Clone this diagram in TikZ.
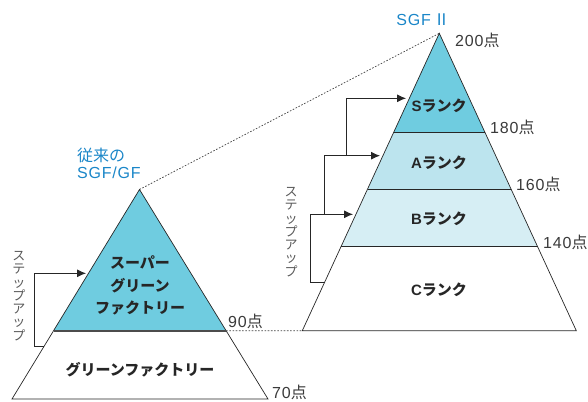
\documentclass[tikz,border=0pt]{standalone}
\usepackage{fontspec}
\setmainfont{Noto Sans CJK JP}
\newfontfamily\latin{Liberation Sans}[LetterSpace=5]
\usetikzlibrary{arrows.meta,calc}
\definecolor{rankS}{HTML}{6FCCE0}
\definecolor{rankA}{HTML}{BCE4EE}
\definecolor{rankB}{HTML}{D6EEF4}
\definecolor{sgfblue}{HTML}{1A86C8}
\definecolor{inkgray}{HTML}{3A3A3A}
\begin{document}
\begin{tikzpicture}[x=1pt, y=-1pt, every node/.style={inner sep=0pt, text=inkgray},
        rank/.style={font=\fontsize{15}{22.5}\selectfont\bfseries, text=black!85, align=center},
        score/.style={anchor=west, font=\fontsize{16}{18}\selectfont},
        title/.style={anchor=west, font=\fontsize{16}{18}\selectfont, text=sgfblue},
        steplabel/.style={align=center, font=\fontsize{13}{13.3}\selectfont, text=black!65},
        stepline/.style={line width=0.8pt, draw=black!85, -{Latex[length=9pt,width=8pt]}},
        pyr/.style={draw=black!85, line width=0.7pt},
        guide/.style={draw=black!75, line width=0.7pt, dash pattern=on 1.6pt off 1.6pt}]
    \useasboundingbox (0,0) rectangle (588,401);
    % Left pyramid
        \coordinate (lt) at (139.5,189.5);
        \coordinate (lbl) at (12,399);
        \coordinate (lbr) at (268,399);
        \coordinate (lml) at ($(lt)!0.674!(lbl)$);
        \coordinate (lmr) at ($(lt)!0.674!(lbr)$);
        \fill[rankS] (lt) -- (lml) -- (lmr) -- cycle;
        \draw[pyr] (lt) -- (lbl) -- (lbr) -- cycle;
        \draw[draw=black!70, line width=1.6pt] (lml) -- (lmr);
    % Right pyramid
        \coordinate (rt) at (439.3,33.3);
        \coordinate (rbl) at (302.3,330.7);
        \coordinate (rbr) at (576.3,330.7);
        \foreach \name/\t in {s/0.333, a/0.5235, b/0.7176} {
            \coordinate (\name l) at ($(rt)!\t!(rbl)$);
            \coordinate (\name r) at ($(rt)!\t!(rbr)$);
        }
        \fill[rankB] (al) -- (bl) -- (br) -- (ar) -- cycle;
        \fill[rankA] (sl) -- (al) -- (ar) -- (sr) -- cycle;
        \fill[rankS] (rt) -- (sl) -- (sr) -- cycle;
        \draw[pyr] (rt) -- (rbl) -- (rbr) -- cycle;
        \foreach \name in {s,a,b}
            \draw[pyr] (\name l) -- (\name r);
    % Dotted guides
        \draw[guide] (lt) -- (rt);
        \draw[guide] (lmr) -- (rbl);
    % Titles and scores
        \node[title] (old1) at (77,155) {従来の};
        \node[title] (old2) at (77,173) {\latin SGF/GF};
        \node[title, anchor=center] (new) at (423,20) {{\latin SGF}\,Ⅱ};
        \node[score] (p200) at (455,40) {{\latin 200}点};
        \node[score] (p180) at (490,127) {{\latin 180}点};
        \node[score] (p160) at (516,184) {{\latin 160}点};
        \node[score] (p140) at (543,242) {{\latin 140}点};
        \node[score] (p90) at (228,321) {{\latin 90}点};
        \node[score] (p70) at (272,392) {{\latin 70}点};
    % Rank labels
        \node[rank] (sgf) at (140,285.5) {スーパー\\グリーン\\ファクトリー};
        \node[rank] (gf) at (140,370) {グリーンファクトリー};
        \node[rank] (rs) at (439,106) {{\latin S}ランク};
        \node[rank] (ra) at (439,163) {{\latin A}ランク};
        \node[rank] (rb) at (439,219) {{\latin B}ランク};
        \node[rank] (rc) at (439,290) {{\latin C}ランク};
    % Step-up arrows
        \node[steplabel] (lstep) at (19,296) {ス\\テ\\ッ\\プ\\ア\\ッ\\プ};
        \node[steplabel] (rstep) at (291,232) {ス\\テ\\ッ\\プ\\ア\\ッ\\プ};
        \coordinate (l0) at (44,346);
        \coordinate (l1) at (34.3,346);
        \coordinate (l2) at (86,273.3);
        \draw[stepline] (l0) -- (l1) |- (l2);
        \coordinate (b0) at (325,282);
        \coordinate (b1) at (310,282);
        \coordinate (b2) at (353,214.3);
        \draw[stepline] (b0) -- (b1) |- (b2);
        \coordinate (a1) at (324.3,214.3);
        \coordinate (a2) at (380,155.7);
        \draw[stepline] (a1) |- (a2);
        \coordinate (s1) at (346.7,155.7);
        \coordinate (s2) at (406,98.3);
        \draw[stepline] (s1) |- (s2);
\end{tikzpicture}
\end{document}
